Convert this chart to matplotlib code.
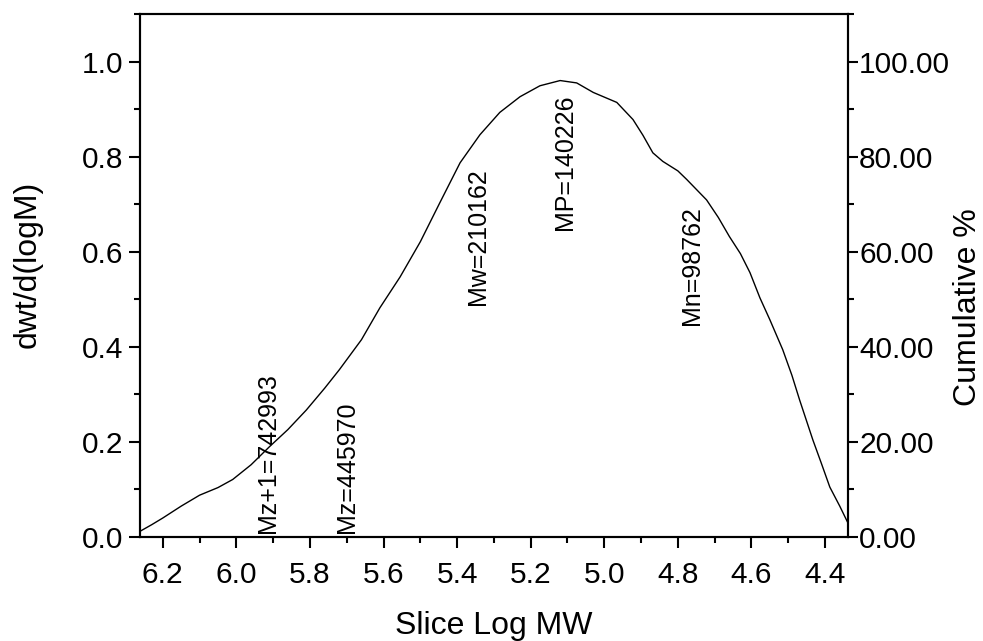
import matplotlib.pyplot as plt
from matplotlib.ticker import MultipleLocator, FormatStrFormatter

plt.rcParams['font.family'] = ['Liberation Sans', 'DejaVu Sans']

# slice log MW vs dwt/d(logM)
log_mw = [6.262, 6.23, 6.20, 6.15, 6.10, 6.05, 6.01, 5.96, 5.91, 5.86, 5.81,
          5.76, 5.72, 5.66, 5.61, 5.555, 5.50, 5.447, 5.392, 5.338, 5.284,
          5.229, 5.175, 5.12, 5.075, 5.03, 4.966, 4.922, 4.895, 4.868, 4.841,
          4.80, 4.776, 4.722, 4.69, 4.66, 4.63, 4.604, 4.577, 4.55, 4.515,
          4.49, 4.469, 4.433, 4.41, 4.387, 4.36, 4.338]
dwt = [0.012, 0.026, 0.040, 0.065, 0.088, 0.104, 0.121, 0.152, 0.190, 0.226,
       0.267, 0.313, 0.352, 0.415, 0.482, 0.547, 0.621, 0.703, 0.787, 0.846,
       0.893, 0.926, 0.949, 0.960, 0.955, 0.935, 0.914, 0.878, 0.845, 0.808,
       0.790, 0.770, 0.752, 0.709, 0.672, 0.632, 0.596, 0.556, 0.503, 0.457,
       0.394, 0.340, 0.288, 0.204, 0.155, 0.105, 0.065, 0.030]

# averages written on the chart: label, x, y of the text foot
avg_labels = ['Mz+1=742993', 'Mz=445970', 'Mw=210162', 'MP=140226', 'Mn=98762']
avg_x = [5.914, 5.699, 5.343, 5.107, 4.762]
avg_y = [0.008, 0.008, 0.488, 0.646, 0.446]

fig = plt.figure(figsize=(9.83, 6.41), dpi=100)
ax = fig.add_axes([0.1424, 0.1622, 0.7203, 0.816])

ax.plot(log_mw, dwt, color='black', lw=1.0)
for lab, x, y in zip(avg_labels, avg_x, avg_y):
    ax.text(x, y, lab, rotation=90, ha='center', va='bottom', fontsize=18)

ax.set_xlim(6.262, 4.3375)
ax.set_ylim(0, 1.1)
ax.xaxis.set_major_locator(MultipleLocator(0.2))
ax.xaxis.set_minor_locator(MultipleLocator(0.1))
ax.yaxis.set_major_locator(MultipleLocator(0.2))
ax.yaxis.set_minor_locator(MultipleLocator(0.1))
ax.xaxis.set_major_formatter(FormatStrFormatter('%.1f'))
ax.yaxis.set_major_formatter(FormatStrFormatter('%.1f'))

ax.tick_params(which='major', length=8, width=1.5, labelsize=21.5)
ax.tick_params(which='minor', length=4, width=1.5)
ax.tick_params(axis='x', pad=9)
ax.tick_params(axis='y', pad=4)
for s in ax.spines.values():
    s.set_linewidth(1.5)

ax.set_xlabel('Slice Log MW', fontsize=23, labelpad=16)
ax.set_ylabel('dwt/d(logM)', fontsize=23)
ax.yaxis.set_label_coords(-0.137, 0.522)

# cumulative % axis on the right
ax2 = ax.twinx()
ax2.set_ylim(0, 110)
ax2.yaxis.set_major_locator(MultipleLocator(20))
ax2.yaxis.set_minor_locator(MultipleLocator(10))
ax2.yaxis.set_major_formatter(FormatStrFormatter('%.2f'))
ax2.tick_params(which='major', length=7, width=1.5, labelsize=21.5, pad=1)
ax2.tick_params(which='minor', length=4, width=1.5)
for s in ax2.spines.values():
    s.set_linewidth(1.5)
ax2.set_ylabel('Cumulative %', fontsize=23)
ax2.yaxis.set_label_coords(1.148, 0.44)

fig.savefig('out.png', dpi=100)
